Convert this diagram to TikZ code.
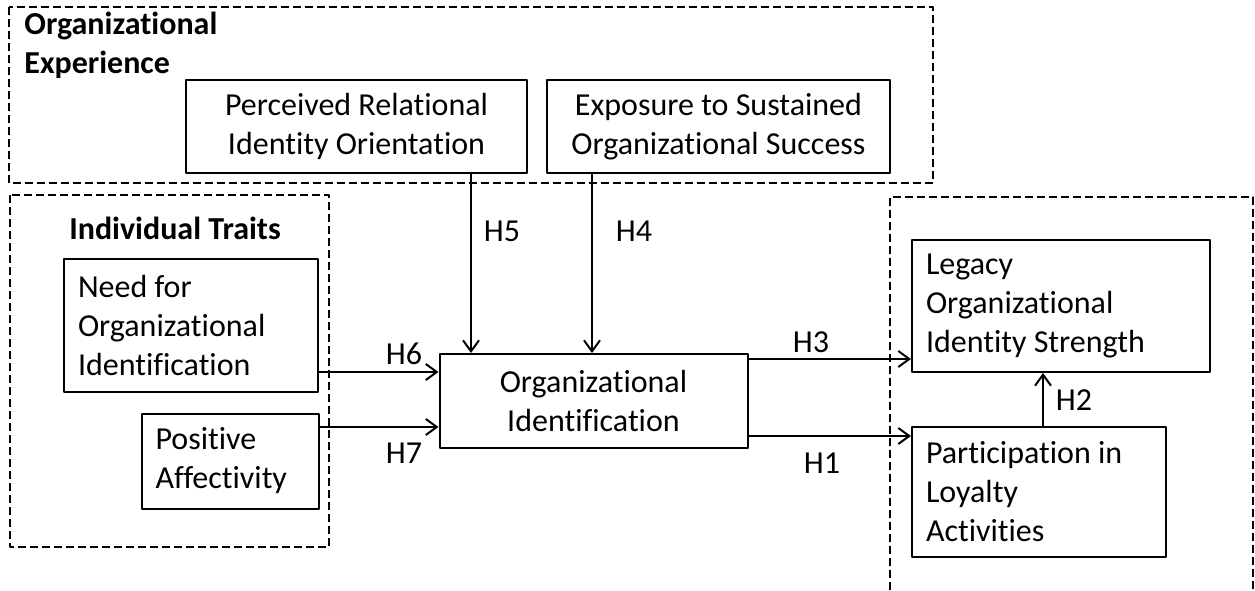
\documentclass[tikz,border=0pt]{standalone}
\usepackage{fontspec}
\setmainfont{Carlito}[Ligatures={NoCommon}]
\usetikzlibrary{arrows.meta}

\begin{document}
\begin{tikzpicture}[x=0.5pt,y=-0.5pt,line join=round,>={Straight Barb[length=5.5pt,width=8pt]},font=\fontsize{16}{19.5}\selectfont]
    \tikzset{
        groupline/.style={line width=1pt,dash pattern=on 4pt off 2pt},
        leftbox/.style={draw,line width=1pt,inner xsep=7pt,inner ysep=0pt,align=flush left},
        midbox/.style={draw,line width=1pt,inner sep=0pt,align=center},
        hlabel/.style={inner sep=0pt},
        link/.style={->,line width=1pt}
    }
    \useasboundingbox (0,0) rectangle (1255,590);
    % dashed groups
    \draw[groupline] (9,7) rectangle (933,183);
    \draw[groupline] (10,195) rectangle (329,547);
    \draw[groupline] (890,590) -- (890,197) -- (1253,197) -- (1253,590);
    \node[anchor=north west,inner sep=0pt,align=left,font=\fontsize{16}{19.5}\selectfont\bfseries] (exptitle) at (24,12) {Organizational\\Experience};
    \node[inner sep=0pt,font=\fontsize{16}{19.5}\selectfont\bfseries] (indtitle) at (175,228) {Individual Traits};
    % boxes
    \node[midbox,minimum width=170.5pt,minimum height=46.5pt] (prio) at (356.5,126.5) {Perceived Relational\\Identity Orientation};
    \node[midbox,minimum width=171.5pt,minimum height=46.5pt] (expo) at (718.5,126.5) {Exposure to Sustained\\Organizational Success};
    \node[leftbox,text width=113pt,minimum height=66.5pt] (need) at (191,325.5) {Need for\\Organizational\\Identification};
    \node[leftbox,text width=74.5pt,minimum height=47.5pt] (pos) at (230,461) {Positive\\Affectivity};
    \node[midbox,minimum width=154pt,minimum height=47pt] (oi) at (593.5,401) {Organizational\\Identification};
    \node[leftbox,text width=135pt,minimum height=66pt] (leg) at (1061,306) {Legacy\\Organizational\\Identity Strength};
    \node[leftbox,text width=113pt,minimum height=65pt] (part) at (1039,492) {Participation in\\Loyalty\\Activities};
    % hypotheses
    \coordinate (h5x) at (471,0);
    \coordinate (h4x) at (592,0);
    \coordinate (h6y) at (0,372);
    \coordinate (h7y) at (0,427);
    \coordinate (h3y) at (0,359);
    \coordinate (h1y) at (0,436);
    \coordinate (h2x) at (1043,0);
    \draw[link] (prio.south -| h5x) -- (oi.north -| h5x);
    \draw[link] (expo.south -| h4x) -- (oi.north -| h4x);
    \draw[link] (need.east |- h6y) -- (oi.west |- h6y);
    \draw[link] (pos.east |- h7y) -- (oi.west |- h7y);
    \draw[link] (oi.east |- h3y) -- (leg.west |- h3y);
    \draw[link] (oi.east |- h1y) -- (part.west |- h1y);
    \draw[link] (part.north -| h2x) -- (leg.south -| h2x);
    \node[hlabel] (h5) at (502,231) {H5};
    \node[hlabel] (h4) at (634,231) {H4};
    \node[hlabel] (h6) at (404,354) {H6};
    \node[hlabel] (h7) at (404,453) {H7};
    \node[hlabel] (h3) at (811,342) {H3};
    \node[hlabel] (h1) at (822,463) {H1};
    \node[hlabel] (h2) at (1074,400) {H2};
\end{tikzpicture}
\end{document}
